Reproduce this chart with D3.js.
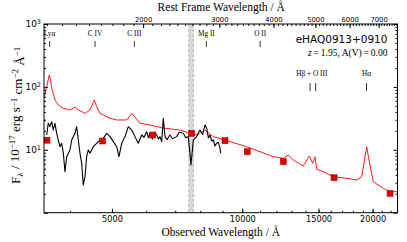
<!DOCTYPE html>
<html lang="en">
<head>
<meta charset="utf-8">
<title>eHAQ0913+0910</title>
<style>
  body { margin: 0; background: #fff; }
  .tick line { stroke: #000; }
  .domain { stroke: none; }
  .serif { font-family: "Liberation Serif", serif; }
</style>
</head>
<body>
<div id="container"></div>
<script src="https://cdnjs.cloudflare.com/ajax/libs/d3/7.8.5/d3.min.js"></script>
<script>
// redshift of the object
var zRed = 1.95;

// observed spectrum (black), wavelength in Angstrom, flux in 1e-17 erg/s/cm2/A
var specWave = [3533, 3563, 3595, 3628, 3659, 3692, 3726, 3758, 3792, 3827, 3860, 3894, 3930, 3999,
  4036, 4107, 4144, 4180, 4218, 4256, 4292, 4331, 4370, 4408, 4448, 4527, 4609, 4691, 4774, 4861,
  4947, 5035, 5127, 5190, 5265, 5359, 5453, 5553, 5651, 5751, 5856, 5930, 6014, 6070, 6120, 6200,
  6280, 6343, 6400, 6455, 6514, 6569, 6629, 6700, 6808, 6900, 7054, 7150, 7306, 7400, 7504, 7612,
  7706, 7846, 7920, 7985, 8100, 8200, 8275, 8350, 8421, 8500, 8570, 8650, 8727, 8800, 8881, 8915];
var specFlux = [17.2, 26.4, 23.3, 28.0, 20.6, 26.4, 18.3, 14.3, 11.2, 12.7, 8.8, 4.48, 7.77, 9.93,
  14.3, 18.3, 23.3, 14.3, 8.8, 6.1, 2.76, 3.73, 7.77, 9.93, 8.8, 11.2, 12.7, 14.3, 15.2, 18.3,
  16.2, 13.5, 11.2, 7.77, 12.7, 16.2, 23.3, 20.6, 16.2, 12.7, 17.2, 15.8, 19.4, 15.5, 18.3, 14.8,
  19.0, 17.2, 14.9, 16.2, 13.5, 31.7, 16.2, 14.5, 17.2, 15.0, 16.2, 19.0, 18.3, 15.5, 16.2, 5.73,
  14.3, 16.2, 18.8, 20.6, 17.5, 24.8, 22.0, 15.5, 17.2, 13.8, 14.3, 11.5, 12.7, 13.2, 10.6, 8.8];

// reddened quasar template (red)
var modelWave = [3488, 3533, 3582, 3609, 3628, 3659, 3692, 3758, 3860, 3999, 4107, 4180, 4331, 4448,
  4551, 4609, 4691, 4947, 5127, 5407, 5553, 5651, 5803, 6120, 6558, 7179, 7572, 7846, 8200, 8570,
  9367, 10237, 10987, 11793, 12437, 12772, 13117, 13833, 14282, 14543, 14721, 14854, 15386, 16226,
  17425, 18377, 18872, 19207, 19381, 19619, 20074, 21170, 21937, 22830];
var modelFlux = [69.9, 100.7, 154.6, 128.8, 95.0, 79.1, 61.9, 51.6, 45.7, 42.9, 47.4, 42.9, 38.0, 42.9,
  61.9, 48.4, 38.0, 31.7, 29.8, 29.8, 38.0, 33.2, 26.4, 24.8, 22.2, 20.6, 18.3, 17.2, 20.6, 16.2,
  13.5, 11.2, 9.33, 7.77, 7.33, 8.27, 6.88, 5.53, 7.97, 6.10, 7.77, 4.90, 4.48, 3.73,
  3.52, 3.31, 3.73, 7.77, 11.2, 6.88, 3.11, 2.44, 2.16, 2.16];

// broad-band photometry (ugriz + YJHK)
var photWave = [3539, 4757, 6211, 7640, 9121, 10269, 12438, 16289, 21942];
var photFlux = [14.2, 13.8, 17.2, 18.3, 13.96, 9.33, 6.47, 3.6, 2.03];

// emission line markers (rest wavelength)
var lineNames1 = ["Lyα", "C IV", "C III", "Mg II", "O II"];
var lineRest1 = [1216, 1549, 1909, 2800, 3727];
var lineRest2 = [4861, 5007, 6563];

// telluric A band (observed)
var bandWave = [7525, 7710];

var bottomLabels = [5000, 10000, 15000, 20000];
var topLabels = [2000, 3000, 4000, 5000, 6000, 7000];
var yLabels = [1, 10, 100, 1000];

var margin = {top: 24, right: 9.5, bottom: 29.3, left: 44},
    W = 407, H = 242,
    width = W - margin.left - margin.right,
    height = H - margin.top - margin.bottom;

var svg = d3.select("#container").append("svg")
  .attr("width", W).attr("height", H);

var chart = svg.append("g")
  .attr("transform", "translate(" + margin.left + "," + margin.top + ")");

var x = d3.scaleLog().domain([3483, 22830]).range([0, width]);
var xRest = d3.scaleLog().domain([3483 / (1 + zRed), 22830 / (1 + zRed)]).range([0, width]);
var y = d3.scaleLog().domain([1, 1000]).range([height, 0]);

chart.append("defs").append("clipPath").attr("id", "clip")
  .append("rect").attr("width", width).attr("height", height);

var plot = chart.append("g").attr("clip-path", "url(#clip)");

// telluric band
plot.append("rect")
  .attr("x", x(bandWave[0])).attr("width", x(bandWave[1]) - x(bandWave[0]))
  .attr("y", 0).attr("height", height)
  .attr("fill", "#d9d9d9");
bandWave.forEach(function(w) {
  plot.append("line")
    .attr("x1", x(w)).attr("x2", x(w)).attr("y1", 0).attr("y2", height)
    .attr("stroke", "#aaa").attr("stroke-width", 0.8).attr("stroke-dasharray", "3,2");
});

var line = d3.line().x(function(d) { return x(d[0]); }).y(function(d) { return y(d[1]); });

plot.append("path")
  .datum(d3.zip(modelWave, modelFlux))
  .attr("d", line).attr("fill", "none").attr("stroke", "#ff1a1a").attr("stroke-width", 1);

plot.append("path")
  .datum(d3.zip(specWave, specFlux))
  .attr("d", line).attr("fill", "none").attr("stroke", "#000").attr("stroke-width", 1.1)
  .attr("stroke-linejoin", "round");

plot.selectAll("rect.phot")
  .data(d3.zip(photWave, photFlux))
  .enter().append("rect").attr("class", "phot")
  .attr("x", function(d) { return x(d[0]) - 3; })
  .attr("y", function(d) { return y(d[1]) - 3; })
  .attr("width", 6).attr("height", 6)
  .attr("fill", "#e00000").attr("stroke", "#900").attr("stroke-width", 0.5);

// emission line labels
lineRest1.forEach(function(r, i) {
  var px = x(r * (1 + zRed));
  chart.append("text").attr("class", "serif")
    .attr("x", px).attr("y", 11.5).attr("text-anchor", "middle")
    .attr("font-size", 7.3).text(lineNames1[i]);
  chart.append("line").attr("x1", px).attr("x2", px).attr("y1", 17).attr("y2", 23)
    .attr("stroke", "#000").attr("stroke-width", 0.8);
});
var hbX = (x(lineRest2[0] * (1 + zRed)) + x(lineRest2[1] * (1 + zRed))) / 2;
chart.append("text").attr("class", "serif")
  .attr("x", hbX - 1).attr("y", 51.5).attr("text-anchor", "middle")
  .attr("font-size", 7.3).text("Hβ + O III");
chart.append("text").attr("class", "serif")
  .attr("x", x(lineRest2[2] * (1 + zRed))).attr("y", 51.5).attr("text-anchor", "middle")
  .attr("font-size", 7.3).text("Hα");
lineRest2.forEach(function(r) {
  var px = x(r * (1 + zRed));
  chart.append("line").attr("x1", px).attr("x2", px).attr("y1", 59).attr("y2", 67)
    .attr("stroke", "#000").attr("stroke-width", 0.8);
});

// name and fit parameters
chart.append("text")
  .attr("x", width - 10).attr("y", 19)
  .attr("text-anchor", "end")
  .attr("font-family", "DejaVu Sans").attr("font-size", 10.5)
  .text("eHAQ0913+0910");
var ztxt = chart.append("text").attr("class", "serif")
  .attr("x", width - 10).attr("y", 32)
  .attr("text-anchor", "end").attr("font-size", 9.5);
ztxt.append("tspan").attr("font-style", "italic").text("z");
ztxt.append("tspan").text("\u2009=\u20091.95, A(V)\u2009=\u20090.00");

// axes: bottom
function minorTicks(lo, hi, step) { return d3.range(lo, hi, step); }

chart.append("g").attr("transform", "translate(0," + height + ")")
  .call(d3.axisBottom(x).tickValues(minorTicks(4000, 23000, 1000)).tickSize(-2).tickFormat(""));
chart.append("g").attr("transform", "translate(0," + height + ")")
  .call(d3.axisBottom(x).tickValues(bottomLabels).tickSize(-4).tickPadding(3).tickFormat(d3.format("d")))
  .selectAll("text").attr("font-family", "DejaVu Sans").attr("font-size", 8.2).attr("fill", "#000");

// top (rest frame)
chart.append("g")
  .call(d3.axisTop(xRest).tickValues(minorTicks(1200, 7800, 100)).tickSize(-2).tickFormat(""));
chart.append("g")
  .call(d3.axisTop(xRest).tickValues(topLabels).tickSize(-4).tickPadding(2).tickFormat(d3.format("d")))
  .selectAll("text").attr("font-family", "DejaVu Sans").attr("font-size", 6.8).attr("fill", "#000");

// left / right
var yMinor = [];
[1, 10, 100].forEach(function(dec) { for (var k = 2; k < 10; k++) yMinor.push(k * dec); });

chart.append("g").call(d3.axisLeft(y).tickValues(yMinor).tickSize(-2).tickFormat(""));
var yl = chart.append("g").call(d3.axisLeft(y).tickValues(yLabels).tickSize(-4).tickPadding(3).tickFormat(""));
yl.selectAll(".tick").filter(function(d) { return d > 1; }).select("text")
  .attr("font-family", "DejaVu Sans").attr("font-size", 9).attr("fill", "#000")
  .each(function(d) {
    var t = d3.select(this);
    t.append("tspan").text("10");
    t.append("tspan").attr("dy", "-0.45em").attr("font-size", 6.5).text(Math.round(Math.log10(d)));
  });

chart.append("g").attr("transform", "translate(" + width + ",0)")
  .call(d3.axisRight(y).tickValues(yMinor).tickSize(-2).tickFormat(""));
chart.append("g").attr("transform", "translate(" + width + ",0)")
  .call(d3.axisRight(y).tickValues(yLabels).tickSize(-4).tickFormat(""));

// frame
chart.append("rect").attr("width", width).attr("height", height)
  .attr("fill", "none").attr("stroke", "#000").attr("stroke-width", 1);

// axis titles
svg.append("text").attr("class", "serif")
  .attr("x", margin.left + width / 2).attr("y", 236)
  .attr("text-anchor", "middle").attr("font-size", 11.5)
  .text("Observed Wavelength / Å");
svg.append("text").attr("class", "serif")
  .attr("x", margin.left + width / 2 + 0.5).attr("y", 11)
  .attr("text-anchor", "middle").attr("font-size", 11.5)
  .text("Rest Frame Wavelength / Å");

var ylab = svg.append("text").attr("class", "serif")
  .attr("transform", "translate(20," + (margin.top + height / 2 - 3) + ") rotate(-90)")
  .attr("text-anchor", "middle").attr("font-size", 13);
function part(t, s, shift) {
  var sp = ylab.append("tspan").text(t);
  if (s) sp.attr("font-size", 9).attr("dy", shift);
  return sp;
}
part("F");
part("λ", true, "0.3em");
part(" / 10", false).attr("dy", "-0.3em");
part("−17", true, "-0.4em");
part(" erg s", false).attr("dy", "0.4em");
part("−1", true, "-0.4em");
part(" cm", false).attr("dy", "0.4em");
part("−2", true, "-0.4em");
part(" Å", false).attr("dy", "0.4em");
part("−1", true, "-0.4em");
</script>
</body>
</html>
